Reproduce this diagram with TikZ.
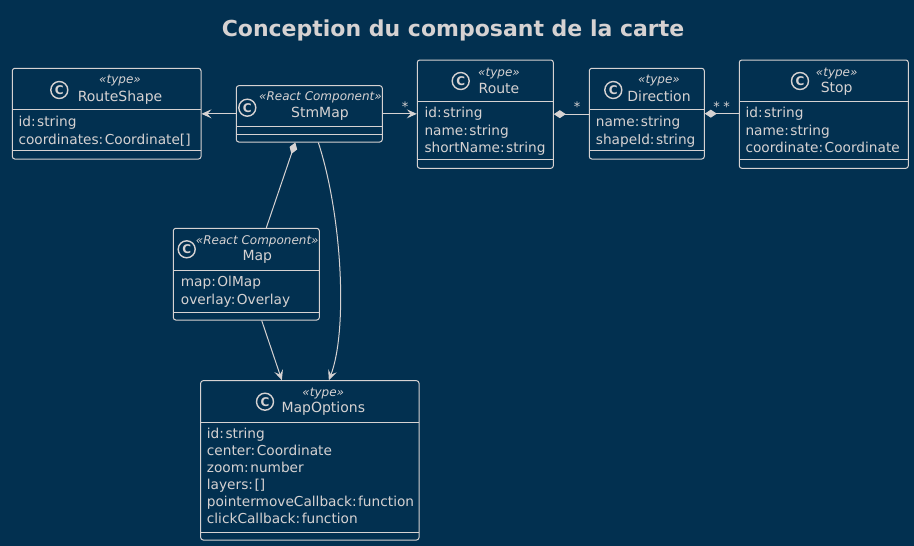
\documentclass[tikz,border=0pt]{standalone}
\usepackage{fontspec}
\setmainfont{DejaVu Sans}[ItalicFont={DejaVu Sans Oblique},BoldFont={DejaVu Sans Bold},BoldItalicFont={DejaVu Sans Bold Oblique}]
\usetikzlibrary{arrows.meta,calc}
\definecolor{bg}{RGB}{2,48,80}
\definecolor{lc}{RGB}{214,210,210}
\newcommand\cl{:\hspace{1.5pt}}
\tikzset{
  cls/.style={draw=lc, line width=1pt, rounded corners=2.5pt, inner sep=0pt, fill=bg},
  sepl/.style={draw=lc, line width=1pt},
  attr/.style={anchor=west, inner sep=0pt, text=lc, font=\fontsize{13.7}{16}\selectfont, text height=10.4pt, text depth=3.3pt},
  stereo/.style={inner sep=0pt, text=lc, font=\fontsize{12}{14}\selectfont\itshape},
  cname/.style={inner sep=0pt, text=lc, font=\fontsize{14}{16}\selectfont},
  icon/.style={circle, draw=lc, line width=1.4pt, minimum size=17pt, inner sep=0pt, text=lc, font=\fontsize{12}{12}\selectfont\bfseries},
  conn/.style={draw=lc, line width=1pt},
  arr/.style={conn, -{Stealth[length=10pt, width=9pt, inset=4pt]}},
  comp/.style={conn, {Diamond[fill=lc, length=12pt, width=8pt]}-},
  mult/.style={inner sep=0pt, anchor=base, text=lc, font=\fontsize{13}{13}\selectfont},
}
\newcommand\umlbox[7]{%
  \path ({(#2+#4)/2},{(#3+#5)/2}) node[cls, minimum width={#4-#2}, minimum height={#5-#3}] (#1) {};
  \draw[sepl] (#2,#6) -- (#4,#6);
  \draw[sepl] (#2,#7) -- (#4,#7);
}
\begin{document}
\begin{tikzpicture}[x=1pt,y=-1pt]
\fill[bg] (0,0) rectangle (914,546);
\useasboundingbox (0,0) rectangle (914,546);

\node[inner sep=0pt, text=lc, font=\fontsize{22}{24}\selectfont\bfseries] (title) at (453,30) {Conception du composant de la carte};

% RouteShape
\umlbox{rs}{12.3}{68.3}{201}{159}{109.3}{150.7}
\node[icon] (rsi) at (59.3,90) {C};
\node[stereo] (rss) at (120,80.7) {«type»};
\node[cname] (rsn) at (120,97.3) {RouteShape};
\node[attr] (rsa1) at (18.3,123.3) {id\cl string};
\node[attr] (rsa2) at (18.3,140.7) {coordinates\cl Coordinate[]};

% StmMap
\umlbox{stm}{236.3}{85.7}{382.3}{142}{126.7}{134.7}
\node[icon] (stmi) at (247.3,107.7) {C};
\node[stereo] (stms) at (320.5,97.5) {«React Component»};
\node[cname] (stmn) at (320,114) {StmMap};

% Route
\umlbox{route}{417.3}{60}{553.3}{168.3}{101.7}{159.3}
\node[icon] (routei) at (460.7,81) {C};
\node[stereo] (routes) at (499,73.3) {«type»};
\node[cname] (routen) at (499,88.3) {Route};
\node[attr] (routea1) at (424.3,114.3) {id\cl string};
\node[attr] (routea2) at (424.3,131.5) {name\cl string};
\node[attr] (routea3) at (424.3,148.7) {shortName\cl string};

% Direction
\umlbox{dir}{589.3}{68.3}{704.3}{159}{109.3}{150.7}
\node[icon] (diri) at (613.3,90) {C};
\node[stereo] (dirs) at (659,80.7) {«type»};
\node[cname] (dirn) at (659,96.7) {Direction};
\node[attr] (dira1) at (595.7,123.3) {name\cl string};
\node[attr] (dira2) at (595.7,140.7) {shapeId\cl string};

% Stop
\umlbox{stop}{739.3}{60}{908.3}{168.3}{101.7}{159.3}
\node[icon] (stopi) at (800,81) {C};
\node[stereo] (stops) at (836.7,73.3) {«type»};
\node[cname] (stopn) at (836.7,88.3) {Stop};
\node[attr] (stopa1) at (745.3,114.3) {id\cl string};
\node[attr] (stopa2) at (745.3,131.5) {name\cl string};
\node[attr] (stopa3) at (745.3,148.7) {coordinate\cl Coordinate};

% Map
\umlbox{map}{173.3}{228.3}{319.3}{320}{270.7}{312.3}
\node[icon] (mapi) at (186.7,249.3) {C};
\node[stereo] (maps) at (257.3,241.7) {«React Component»};
\node[cname] (mapn) at (257.3,257.3) {Map};
\node[attr] (mapa1) at (180.7,283.3) {map\cl OlMap};
\node[attr] (mapa2) at (180.7,300.7) {overlay\cl Overlay};

% MapOptions
\umlbox{mo}{200.7}{380.7}{419}{540}{422.3}{532.3}
\node[icon] (moi) at (265,401.7) {C};
\node[stereo] (mos) at (323.3,393.3) {«type»};
\node[cname] (mon) at (323.3,409) {MapOptions};
\node[attr] (moa1) at (206.7,435) {id\cl string};
\node[attr] (moa2) at (206.7,452) {center\cl Coordinate};
\node[attr] (moa3) at (206.7,469) {zoom\cl number};
\node[attr] (moa4) at (206.7,486) {layers\cl []};
\node[attr] (moa5) at (206.7,503) {pointermoveCallback\cl function};
\node[attr] (moa6) at (206.7,520) {clickCallback\cl function};

% connectors
\draw[arr] (stm.west) -- (stm.west -| rs.east);
\draw[arr] (stm.east) -- (stm.east -| route.west);
\draw[comp] (route.east) -- (route.east -| dir.west);
\draw[comp] (dir.east) -- (dir.east -| stop.west);
\draw[comp] ($(stm.south)+(-14,0)$) -- ($(map.north)+(20,0)$);
\draw[arr] ($(stm.south)+(9,0)$) .. controls (342,215) and (348,330) .. ($(mo.north)+(19,0)$);
\draw[arr] ($(map.south)+(15.4,0)$) -- ($(mo.north)+(-28,0)$);

% multiplicities
\node[mult] (m1) at (405,111) {*};
\node[mult] (m2) at (577,111) {*};
\node[mult] (m3) at (716.7,111) {*};
\node[mult] (m4) at (726.7,111) {*};
\end{tikzpicture}
\end{document}
